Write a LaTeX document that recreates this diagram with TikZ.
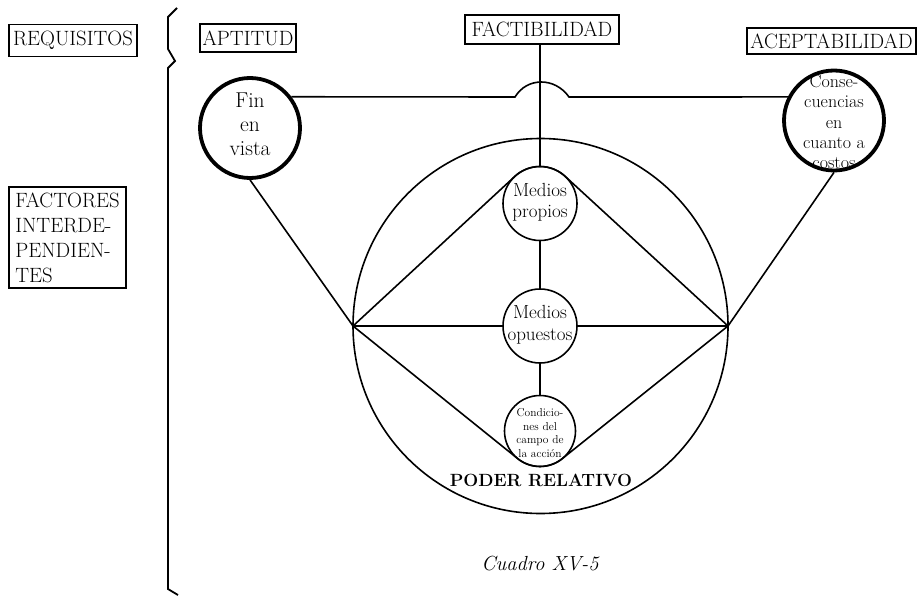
\documentclass[tikz,border=0pt]{standalone}
\usetikzlibrary{calc}
\begin{document}
\begin{tikzpicture}[x=1pt,y=-1pt,
  ln/.style={line width=1.6pt},
  box/.style={draw, line width=1.3pt, inner sep=0pt, font=\fontsize{20.7}{25}\selectfont},
  thickc/.style={circle, draw, line width=3.8pt, inner sep=0pt, minimum size=100pt},
  smallc/.style={circle, draw, line width=1.6pt, inner sep=0pt, outer sep=0pt},
  txt/.style={align=center, inner sep=0pt}]
\useasboundingbox (0,0) rectangle (917,596);

% brace
\draw[line width=1.8pt, line join=miter] (177,8) -- (168,17) -- (168,49) -- (175,61) -- (168,68) -- (168,589) -- (178,595);

% boxes
\node[box, minimum width=128pt, minimum height=32pt] (req) at (73,40.5) {REQUISITOS};
\node[box, minimum width=96pt, minimum height=28pt] (apt) at (248,38) {APTITUD};
\node[box, minimum width=154pt, minimum height=29pt] (fact) at (542,29.5) {FACTIBILIDAD};
\node[box, minimum width=169pt, minimum height=26pt] (acep) at (831.5,41) {ACEPTABILIDAD};
\node[box, minimum width=117pt, minimum height=101pt, align=left, inner xsep=3pt] (fact2) at (67.5,237.5) {FACTORES\\INTERDE-\\PENDIEN-\\TES};

% big circle
\node[circle, draw, line width=1.6pt, inner sep=0pt, outer sep=0pt, minimum size=375pt] (poder) at (540.5,326) {};
\coordinate (L) at (poder.west);
\coordinate (R) at (poder.east);

% thick circles
\node[thickc] (fin) at (250,128) {};
\node[txt, font=\fontsize{21.5}{24}\selectfont] (fintxt) at (250,124.5) {Fin\\en\\vista};
\node[thickc] (cons) at (834,120.5) {};
\node[txt, font=\fontsize{18}{20.3}\selectfont] (constxt) at (834,122) {Conse-\\cuencias\\en\\cuanto a\\costos};

% small circles
\node[smallc, minimum size=74pt] (mp) at (540,203.5) {};
\node[txt, font=\fontsize{19}{21}\selectfont] (mptxt) at (540,202) {Medios\\propios};
\node[smallc, minimum size=74pt] (mo) at (540,326) {};
\node[txt, font=\fontsize{19}{22}\selectfont] (motxt) at (540,325) {Medios\\opuestos};
\node[smallc, minimum size=71pt] (cond) at (540,431) {};
\node[txt, font=\fontsize{11.5}{13.5}\selectfont] (condtxt) at (540,433) {Condicio-\\nes del\\campo de\\la acción};

% labels
\node[inner sep=0pt, font=\fontsize{17.7}{20}\selectfont\bfseries] (pr) at (541,480) {PODER RELATIVO};
\node[inner sep=0pt, font=\fontsize{20.4}{22}\selectfont\itshape] (cap) at (540,563.5) {Cuadro XV-5};

% top connector with jump
\coordinate (jl) at (515,97);
\coordinate (jr) at (569,97);
\draw[ln] (fin.37) -- (jl) .. controls (527,77) and (555,77) .. (jr) -- (cons.153);
\draw[ln] (mp.north |- fact.south) -- (mp.north);

% connectors
\draw[ln] (fin.south) -- (L);
\draw[ln] (cons.south) -- (R);
\draw[ln] (L) -- (mo.west);
\draw[ln] (mo.east) -- (R);
\draw[ln] (mp.south) -- (mo.north);
\draw[ln] (mo.south) -- (cond.north);

% tangents to Medios propios
\draw[ln] (L) -- (tangent cs:node=mp,point={(L)},solution=2) coordinate (t1);
\draw[ln] (R) -- (tangent cs:node=mp,point={(R)},solution=1) coordinate (t2);
% tangents to Condiciones
\draw[ln] (L) -- (tangent cs:node=cond,point={(L)},solution=1) coordinate (t3);
\draw[ln] (R) -- (tangent cs:node=cond,point={(R)},solution=2) coordinate (t4);
% doubled arcs along the circles
\draw[ln] let \p1=($(t1)-(mp.center)$), \n1={atan2(\y1,\x1)}, \n2={veclen(\x1,\y1)} in (t1) arc[start angle=\n1, end angle=90, radius=\n2];
\draw[ln] let \p1=($(t2)-(mp.center)$), \n1={atan2(\y1,\x1)}, \n2={veclen(\x1,\y1)} in (t2) arc[start angle=\n1, end angle=90, radius=\n2];
\draw[ln] let \p1=($(t3)-(cond.center)$), \n1={atan2(\y1,\x1)}, \n2={veclen(\x1,\y1)} in (t3) arc[start angle=\n1, end angle=-90, radius=\n2];
\draw[ln] let \p1=($(t4)-(cond.center)$), \n1={atan2(\y1,\x1)}, \n2={veclen(\x1,\y1)} in (t4) arc[start angle=\n1, end angle=-90, radius=\n2];
\end{tikzpicture}
\end{document}
